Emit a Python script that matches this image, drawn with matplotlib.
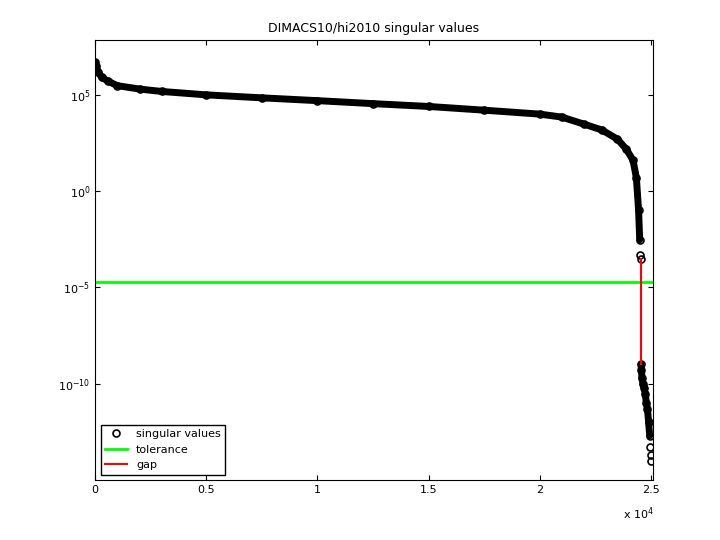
import matplotlib
matplotlib.use("Agg")
import matplotlib.pyplot as plt

# singular values (index, value)
idx = [1, 50, 150, 300, 600, 1000, 2000, 3000, 5000, 7500, 10000, 12500, 15000,
       17500, 20000, 21000, 22000, 22800, 23500, 23900, 24200, 24350, 24450,
       24500, 24530, 24550, 24560, 24580, 24600, 24650, 24700, 24750, 24800,
       24850, 24900, 24950, 24980, 25000, 25016]
sv = [5e6, 3e6, 1.5e6, 8e5, 5e5, 3e5, 2e5, 1.5e5, 1e5, 7e4, 5e4, 3.5e4, 2.5e4,
      1.6e4, 1e4, 7e3, 3e3, 1.5e3, 5e2, 1.5e2, 4e1, 5, 1e-1,
      3e-3, 5e-4, 3e-4, 1e-9, 5e-10, 2e-10, 1e-10, 6e-11, 3e-11, 1e-11,
      5e-12, 1e-12, 2e-13, 5e-14, 2e-14, 1e-14]
tol = 2e-5
gap_x = 24555
gap_lo, gap_hi = 1e-9, 3e-4
split = 26  # first index below the gap

fig = plt.figure(figsize=(7.2, 5.4), dpi=100)
ax = fig.add_axes([0.132, 0.111, 0.775, 0.815])
ax.plot(idx[:split - 2], sv[:split - 2], color="black", linewidth=5, solid_capstyle="round")
ax.plot(idx[split:-3], sv[split:-3], color="black", linewidth=5, solid_capstyle="round")
ax.plot(idx, sv, "o", mfc="none", mec="black", ms=5, mew=1.2,
        label="singular values")
ax.axhline(tol, color="#00ff00", linewidth=2, label="tolerance")
ax.plot([gap_x, gap_x], [gap_lo, gap_hi], color="red", linewidth=1.5, label="gap")

ax.set_yscale("log")
ax.set_xlim(0, 25100)
ax.set_ylim(1e-15, 10**7.85)
ax.set_yticks([1e-10, 1e-5, 1e0, 1e5])
ax.minorticks_off()
ax.set_xticks([0, 5000, 10000, 15000, 20000, 25000])
ax.set_xticklabels(["0", "0.5", "1", "1.5", "2", "2.5"])
ax.tick_params(labelsize=8, direction="in", top=True, right=True)
fig.text(0.865, 0.04, r"x 10$^4$", fontsize=8)
ax.set_title("DIMACS10/hi2010 singular values", fontsize=9)
ax.legend(loc="lower left", fontsize=8, fancybox=False, edgecolor="black",
          framealpha=1)
fig.savefig("out.png")
